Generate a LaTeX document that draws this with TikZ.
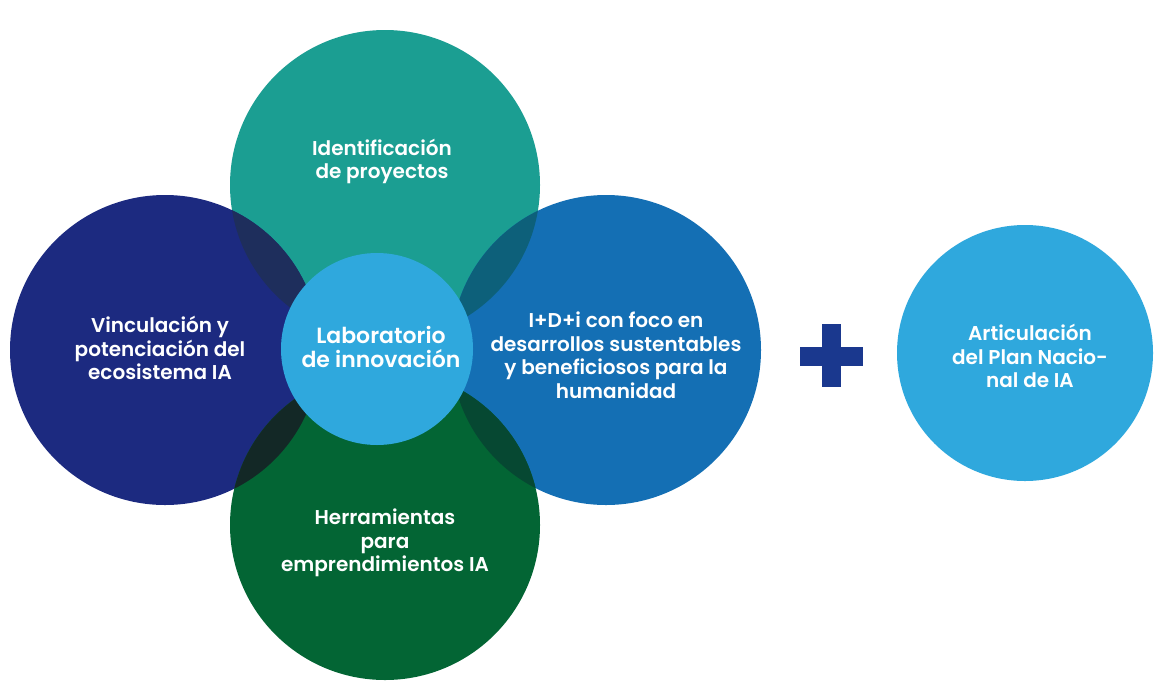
\documentclass[tikz,border=0pt]{standalone}
\usepackage{fontspec}
\setmainfont{Poppins}[BoldFont={Poppins SemiBold}]
\definecolor{tealC}{RGB}{27,158,146}
\definecolor{navyC}{RGB}{28,42,128}
\definecolor{blueC}{RGB}{20,111,180}
\definecolor{greenC}{RGB}{3,101,52}
\definecolor{skyC}{RGB}{47,168,221}
\definecolor{plusC}{RGB}{26,56,142}
\definecolor{tnC}{RGB}{30,46,92}
\definecolor{tbC}{RGB}{13,96,122}
\definecolor{gnC}{RGB}{19,40,38}
\definecolor{gbC}{RGB}{6,72,50}
\tikzset{
  petal/.style={circle, inner sep=0pt, minimum size=310pt},
  lbl/.style={text=white, inner sep=0pt, align=center,
    font=\bfseries\fontsize{20}{23.5}\selectfont},
  hublbl/.style={lbl, font=\bfseries\fontsize{22}{24.5}\selectfont}
}
\begin{document}
\begin{tikzpicture}[x=1pt,y=-1pt]
        \def\R{155pt}
        \useasboundingbox[fill=white] (0,0) rectangle (1156,681);
        % the four petals
        \node[petal, fill=tealC]  (top)   at (385,185) {};
        \node[petal, fill=navyC]  (left)  at (165,350) {};
        \node[petal, fill=blueC]  (right) at (606,350) {};
        \node[petal, fill=greenC] (bot)   at (385,525) {};
        % darker overlaps
        \foreach \a/\b/\c in {top/left/tnC, top/right/tbC, bot/left/gnC, bot/right/gbC}
        {
        \begin{scope}
        \clip (\a) circle (\R);
        \fill[\c] (\b) circle (\R);
        \end{scope}
        }
        \node[petal, minimum size=192pt, fill=skyC] (lab) at (377,349) {};
        % plus sign
        \fill[plusC] (800,346.5) rectangle (863,365.5);
        \fill[plusC] (822,324) rectangle (841,387);
        \node[petal, minimum size=256pt, fill=skyC] (plan) at (1025,353) {};
        % texts
        \node[lbl] (topT)   at (382,161.5) {Identificaci\'on\\de proyectos};
        \node[lbl] (leftT)  at (160,348) {Vinculaci\'on y\\potenciaci\'on del\\ecosistema IA};
        \node[lbl] (rightT) at (616,355) {I+D+i con foco en\\desarrollos sustentables\\y beneficiosos para la\\humanidad};
        \node[lbl] (botT)   at (385,543) {Herramientas\\para\\emprendimientos IA};
        \node[hublbl] (labT) at (381,347) {Laboratorio\\de innovaci\'on};
        \node[lbl] (planT)  at (1030,356) {Articulaci\'on\\del Plan Nacio-\\nal de IA};
    \end{tikzpicture}
\end{document}
